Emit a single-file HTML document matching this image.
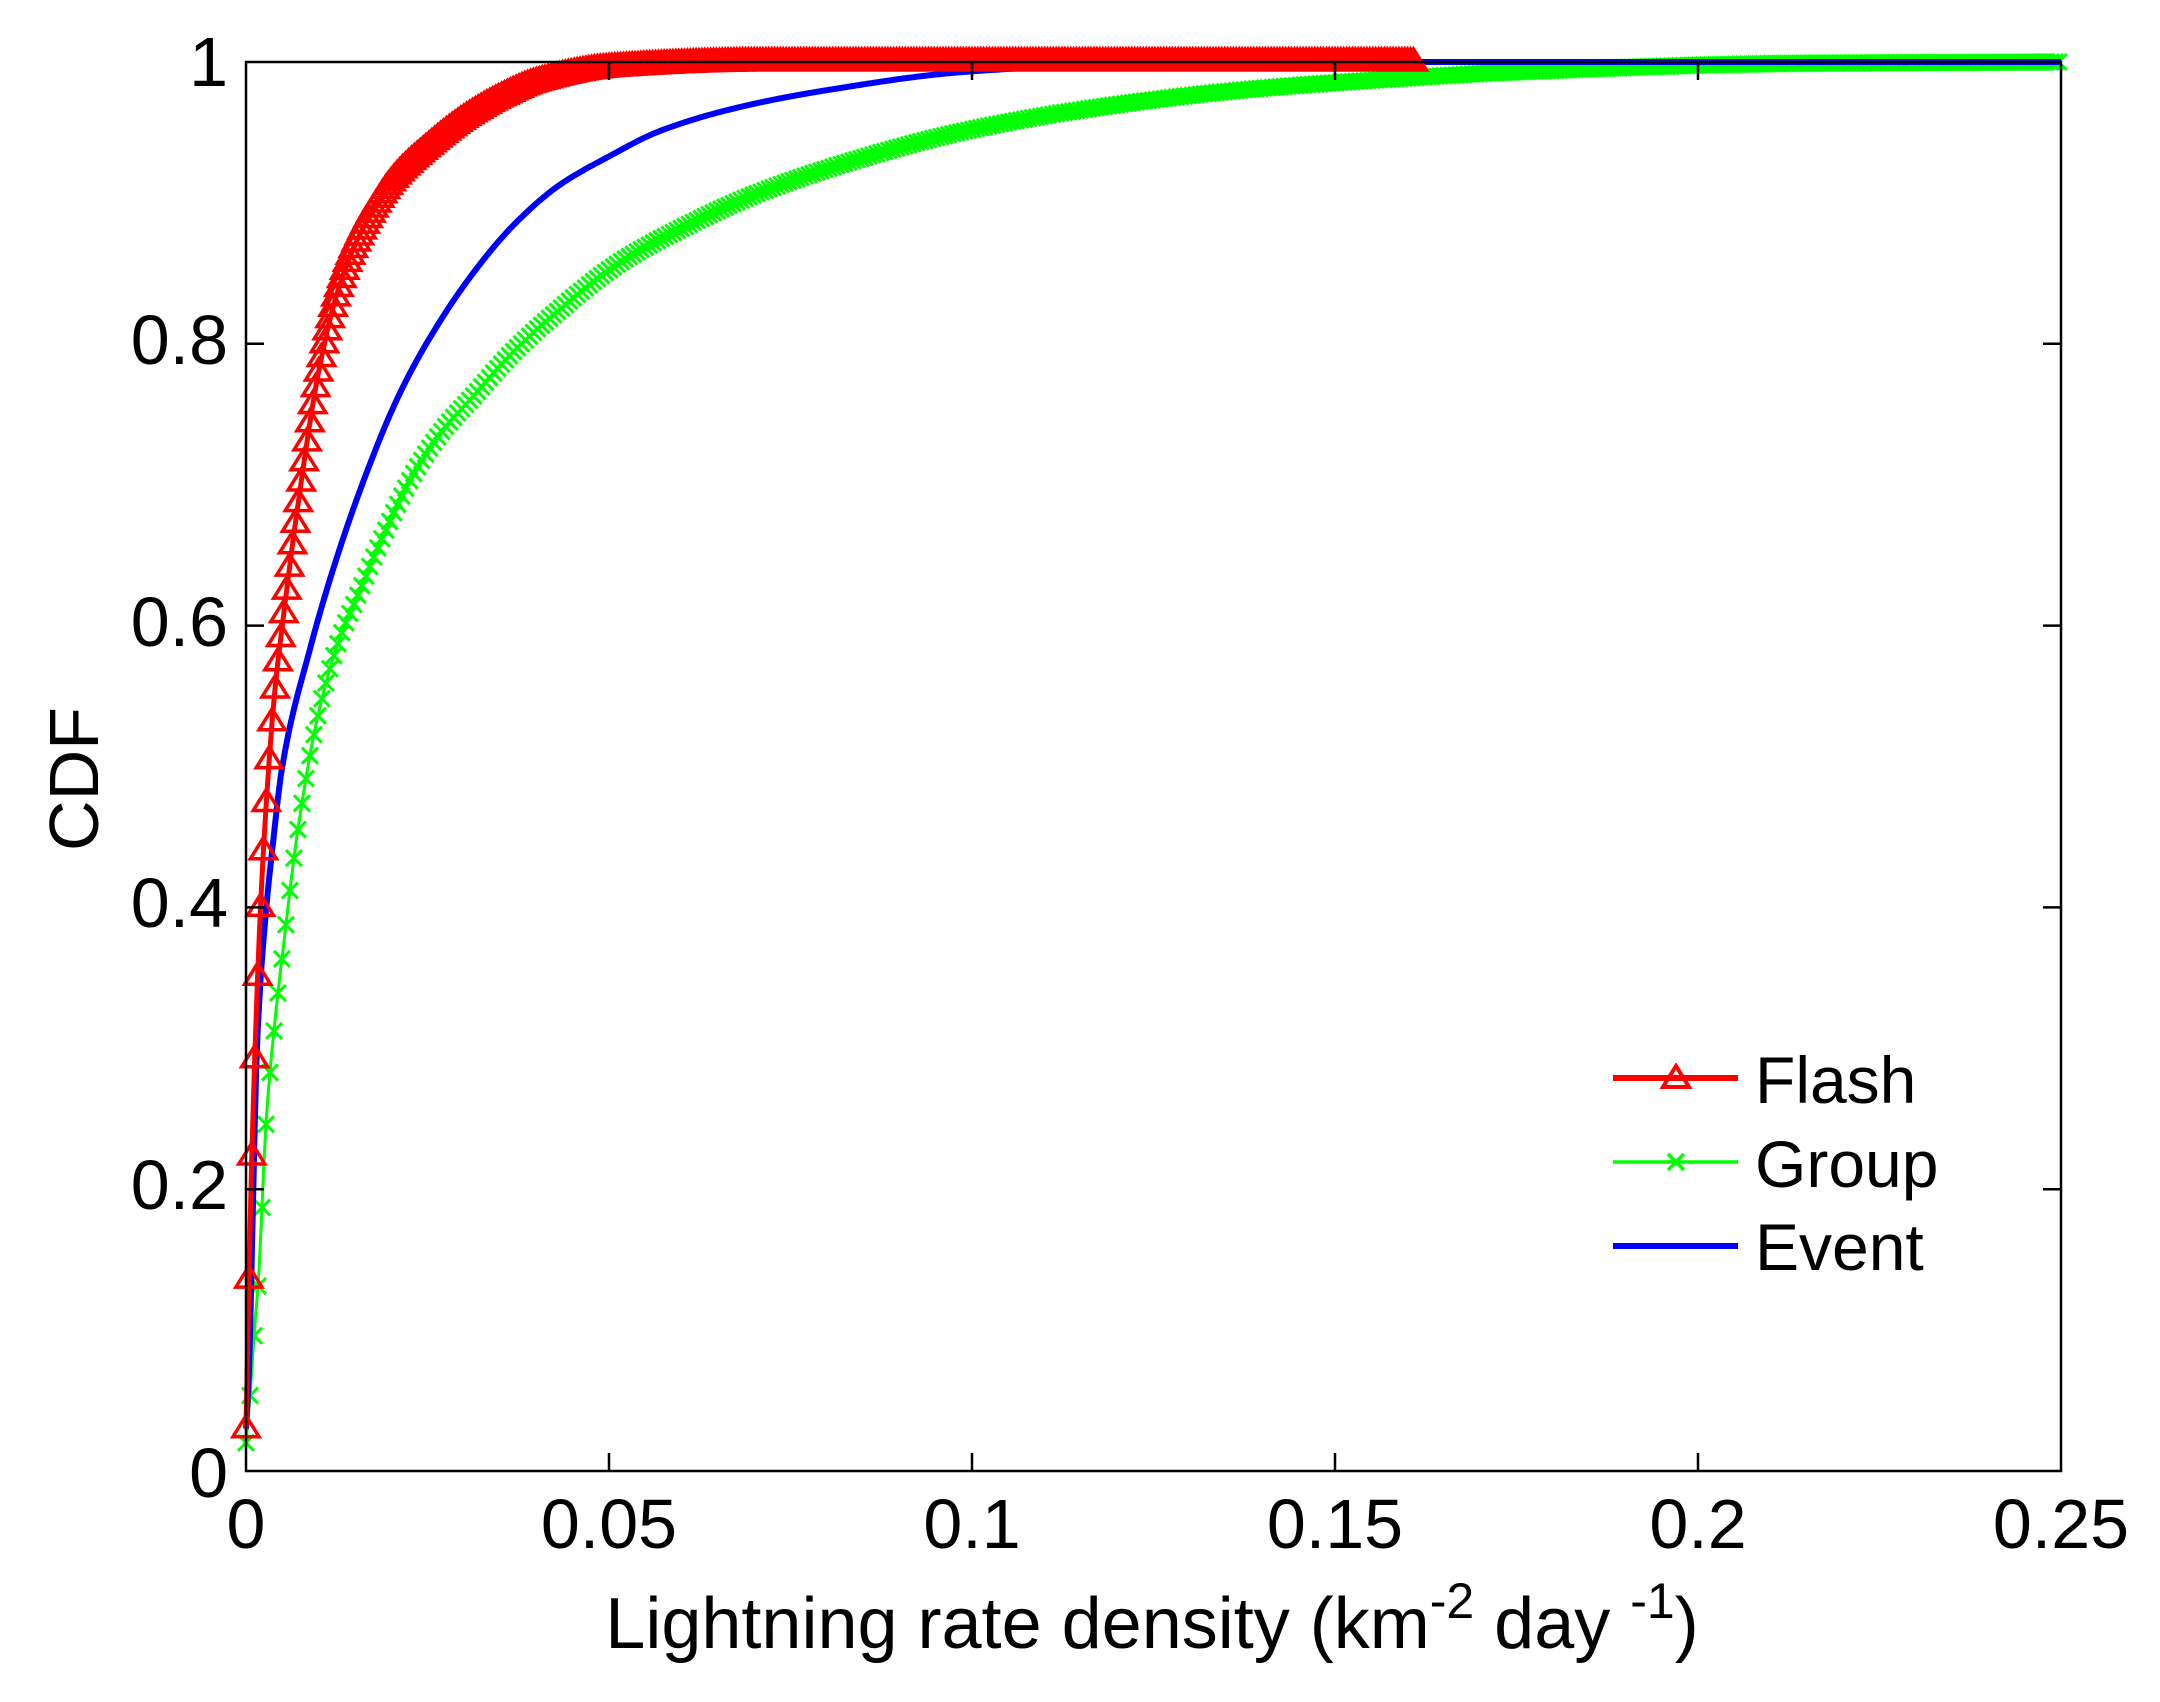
<!DOCTYPE html>
<html><head><meta charset="utf-8"><style>
html,body{margin:0;padding:0;background:#fff;}
svg{display:block;font-family:"Liberation Sans",Arial,sans-serif;}
</style></head><body>
<svg id="s" width="2160" height="1702" viewBox="0 0 2160 1702" xmlns="http://www.w3.org/2000/svg">
<rect width="2160" height="1702" fill="#fff"/>
<g id="curves"></g>
<rect x="246" y="62" width="1815" height="1409" fill="none" stroke="#000" stroke-width="2.5"/>
<g id="ticks" stroke="#000" stroke-width="2.5"></g>
<g font-size="70" fill="#000" text-anchor="middle">
<text x="246" y="1548">0</text>
<text x="609" y="1548">0.05</text>
<text x="972" y="1548">0.1</text>
<text x="1335" y="1548">0.15</text>
<text x="1698" y="1548">0.2</text>
<text x="2061" y="1548">0.25</text>
</g>
<g font-size="70" fill="#000" text-anchor="end">
<text x="228" y="1497">0</text>
<text x="228" y="1209">0.2</text>
<text x="228" y="927">0.4</text>
<text x="228" y="646">0.6</text>
<text x="228" y="364">0.8</text>
<text x="228" y="86">1</text>
</g>
<text x="0" y="0" font-size="70" text-anchor="middle" transform="translate(98,779) rotate(-90)">CDF</text>
<text x="1152" y="1648" font-size="72" text-anchor="middle">Lightning rate density (km<tspan font-size="50" dy="-30">-2</tspan><tspan dy="30"> day </tspan><tspan font-size="50" dy="-30">-1</tspan><tspan dy="30">)</tspan></text>
<g id="legend">
<line x1="1613" y1="1078" x2="1738" y2="1078" stroke="#f00" stroke-width="6"/>
<line x1="1613" y1="1162" x2="1738" y2="1162" stroke="#0f0" stroke-width="3.5"/>
<line x1="1613" y1="1246" x2="1738" y2="1246" stroke="#00f" stroke-width="6"/>
<path d="M1676,1066 L1663,1087 L1689,1087 Z" fill="none" stroke="#f00" stroke-width="4"/>
<path d="M1668,1154 L1684,1170 M1684,1154 L1668,1170" stroke="#0f0" stroke-width="3.5"/>
<text x="1755" y="1103" font-size="66">Flash</text>
<text x="1755" y="1187" font-size="66">Group</text>
<text x="1755" y="1270" font-size="66">Event</text>
</g>
</svg>
<script>
(function(){
var X=function(x){return 246+7260*x;}, Y=function(f){return 1471-1409*f;};
function mono(pts){
  var n=pts.length,xs=pts.map(function(p){return p[0]}),ys=pts.map(function(p){return p[1]});
  var d=[],m=[];
  for(var i=0;i<n-1;i++)d.push((ys[i+1]-ys[i])/(xs[i+1]-xs[i]));
  m[0]=d[0];m[n-1]=d[n-2];
  for(var i=1;i<n-1;i++){ if(d[i-1]*d[i]<=0)m[i]=0; else { var w1=2*(xs[i+1]-xs[i])+(xs[i]-xs[i-1]), w2=(xs[i+1]-xs[i])+2*(xs[i]-xs[i-1]); m[i]=(w1+w2)/(w1/d[i-1]+w2/d[i]); } }
  return function(x){
    if(x<=xs[0])return ys[0]; if(x>=xs[n-1])return ys[n-1];
    var i=0;while(x>xs[i+1])i++;
    var h=xs[i+1]-xs[i],t=(x-xs[i])/h,t2=t*t,t3=t2*t;
    return (2*t3-3*t2+1)*ys[i]+(t3-2*t2+t)*h*m[i]+(-2*t3+3*t2)*ys[i+1]+(t3-t2)*h*m[i+1];
  };
}
var flash=mono([[0,0.03],[0.0005,0.16],[0.001,0.26],[0.002,0.40],[0.003,0.49],[0.004,0.555],[0.005,0.60],[0.007,0.68],[0.01,0.78],[0.0125,0.835],[0.015,0.87],[0.02,0.915],[0.025,0.94],[0.03,0.96],[0.035,0.975],[0.04,0.986],[0.05,0.996],[0.07,1.0],[0.161,1.0]]);
var group=mono([[0,0.02],[0.0006,0.057],[0.0011,0.096],[0.0017,0.135],[0.0028,0.25],[0.004,0.32],[0.0051,0.37],[0.007,0.45],[0.0099,0.536],[0.0125,0.585],[0.0156,0.624],[0.019,0.665],[0.023,0.707],[0.027,0.738],[0.0317,0.765],[0.036,0.79],[0.042,0.819],[0.0516,0.858],[0.06,0.882],[0.0706,0.907],[0.085,0.932],[0.099,0.951],[0.115,0.966],[0.137,0.98],[0.155,0.987],[0.175,0.993],[0.213,0.999],[0.25,1.0]]);
var event=mono([[0,0.03],[0.0004,0.07],[0.001,0.2],[0.0015,0.30],[0.0028,0.40],[0.0036,0.44],[0.005,0.5],[0.0089,0.585],[0.012,0.64],[0.0165,0.707],[0.0212,0.765],[0.026,0.81],[0.0317,0.853],[0.037,0.885],[0.043,0.912],[0.05,0.933],[0.057,0.951],[0.068,0.968],[0.08,0.98],[0.099,0.993],[0.118,0.998],[0.14,1.0],[0.25,1.0]]);
var g=document.getElementById('curves'), out='';
function path(f,xmax,col,w){
  var d='';for(var x=0;x<=xmax+1e-9;x+=0.0002){d+=(d?'L':'M')+X(x).toFixed(1)+','+Y(f(x)).toFixed(1);}
  return '<path d="'+d+'" fill="none" stroke="'+col+'" stroke-width="'+w+'" stroke-linejoin="round"/>';
}
out+=path(group,0.25,'#0f0',3);
var gm='';
for(var x=0;x<=0.2501;x+=0.00055){var cx=X(x),cy=Y(group(x));gm+='M'+(cx-8).toFixed(1)+','+(cy-8).toFixed(1)+'l16,16m-16,0l16,-16';}
out+='<path d="'+gm+'" stroke="#0f0" stroke-width="3" fill="none"/>';
out+=path(event,0.25,'#00f',6);
out+=path(flash,0.161,'#f00',5);
var rm='';
for(var x=0;x<=0.161;x+=0.0004){var cx=X(x),cy=Y(flash(x));rm+='M'+cx.toFixed(1)+','+(cy-13).toFixed(1)+'l-13,21h26z';}
out+='<path d="'+rm+'" stroke="#f00" stroke-width="3.5" fill="none"/>';
g.innerHTML=out;
var t='';
for(var i=1;i<5;i++){var x=246+i*363;t+='<line x1="'+x+'" y1="1471" x2="'+x+'" y2="1453"/><line x1="'+x+'" y1="62" x2="'+x+'" y2="80"/>';}
for(var j=1;j<5;j++){var y=1471-j*281.8;t+='<line x1="246" y1="'+y+'" x2="264" y2="'+y+'"/><line x1="2061" y1="'+y+'" x2="2043" y2="'+y+'"/>';}
document.getElementById('ticks').innerHTML=t;
})();
</script>
</body></html>
